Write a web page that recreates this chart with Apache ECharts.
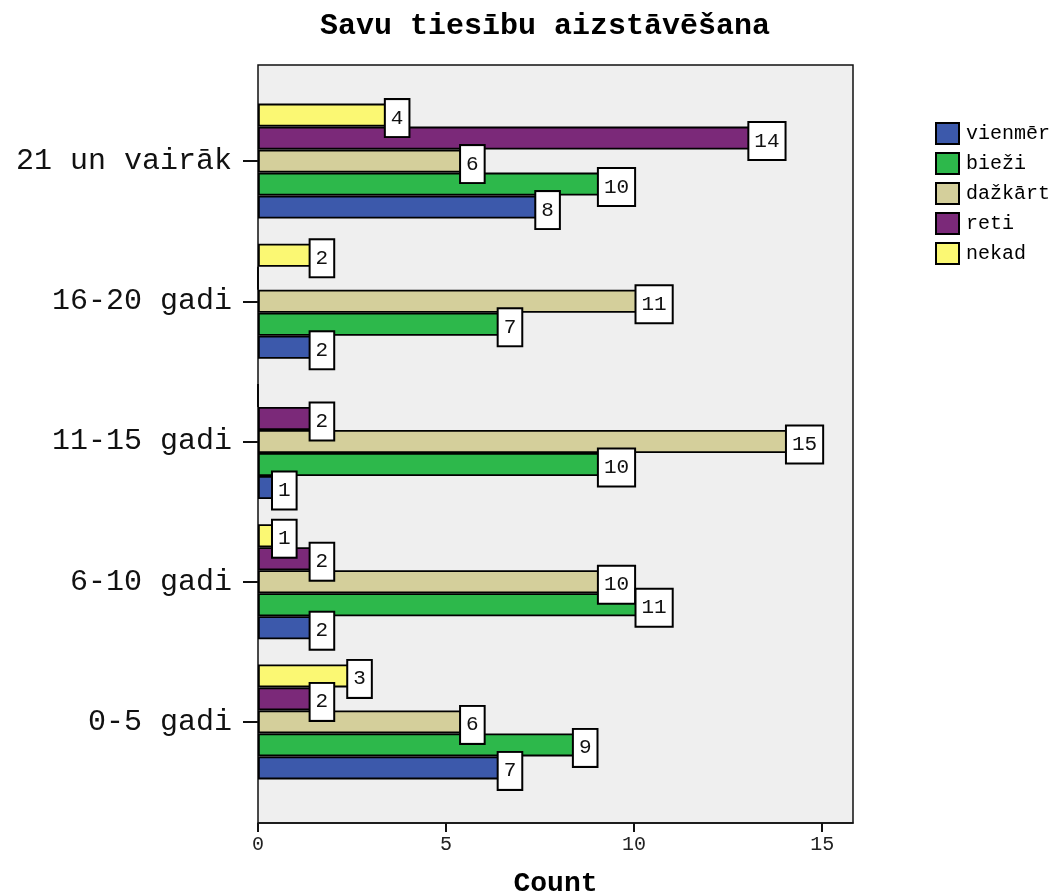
<!DOCTYPE html>
<html>
<head>
<meta charset="utf-8">
<script src="https://cdn.jsdelivr.net/npm/echarts@6/dist/echarts.min.js"></script>
<style>
  html, body { margin: 0; padding: 0; background: #ffffff; }
  #chart { width: 1051px; height: 893px; }
</style>
</head>
<body>
<div id="chart"></div>
<script>
// Years of experience groups (bottom to top)
const categories = ['0-5 gadi', '6-10 gadi', '11-15 gadi', '16-20 gadi', '21 un vairāk'];

// Answer counts per group
const seriesNames = ['vienmēr', 'bieži', 'dažkārt', 'reti', 'nekad'];
const vienmer = [7, 2, 1, 2, 8];
const biezi = [9, 11, 10, 7, 10];
const dazkart = [6, 10, 15, 11, 6];
const reti = [2, 2, 2, 0, 14];
const nekad = [3, 1, 0, 2, 4];

const xTicks = [0, 5, 10, 15];

const colors = ['#3c59ab', '#2db84b', '#d4cf9b', '#7b2979', '#fbf873'];
const mono = '"Liberation Mono", "DejaVu Sans Mono", monospace';

const valueSets = [vienmer, biezi, dazkart, reti, nekad];
const xMax = 15.82;

const chart = echarts.init(document.getElementById('chart'), null, { renderer: 'canvas' });

// first answer drawn at the bottom of each group, so series go in reverse
const series = seriesNames.map((name, i) => ({
  name: name,
  type: 'bar',
  xAxisIndex: 1,
  yAxisIndex: 1,
  data: valueSets[i].map(v => (v === 0 ? { value: v, label: { show: false } } : v)),
  barWidth: 23,
  barGap: '0%',
  itemStyle: { color: colors[i], borderColor: '#000', borderWidth: 1.8 },
  label: {
    show: true,
    position: 'insideRight',
    distance: 0,
    offset: [0, 3],
    fontFamily: mono,
    fontSize: 21,
    color: '#111',
    backgroundColor: '#fff',
    borderColor: '#000',
    borderWidth: 2,
    padding: [8, 5, 7, 5],
    lineHeight: 21
  },
  emphasis: { disabled: true }
})).reverse();

chart.setOption({
  animation: false,
  backgroundColor: '#ffffff',
  title: {
    text: 'Savu tiesību aizstāvēšana',
    left: 540,
    textAlign: 'center',
    top: 6,
    textStyle: { fontFamily: mono, fontSize: 30, fontWeight: 'bold', color: '#000' }
  },
  legend: {
    orient: 'vertical',
    left: 930,
    top: 117,
    itemWidth: 23,
    itemHeight: 21,
    itemGap: 7,
    icon: 'rect',
    data: seriesNames,
    textStyle: { fontFamily: mono, fontSize: 20, color: '#000', padding: [0, 0, 0, 2] }
  },
  grid: [
    // frame and count axis
    { left: 258, right: 198, top: 65, bottom: 70, outerBoundsMode: 'none', containLabel: false,
      show: true, backgroundColor: '#efefef', borderColor: '#111', borderWidth: 1.5 },
    // bar area
    { left: 258, right: 198, top: 91, bottom: 101, outerBoundsMode: 'none', containLabel: false }
  ],
  xAxis: [
    {
      gridIndex: 0,
      type: 'value',
      min: 0,
      max: xMax,
      interval: 5,
      name: 'Count',
      nameLocation: 'middle',
      nameGap: 47,
      nameTextStyle: { fontFamily: mono, fontSize: 28, fontWeight: 'bold', color: '#000' },
      axisLine: { show: true, lineStyle: { color: '#111', width: 1.5 } },
      axisTick: { show: true, length: 9, customValues: xTicks, lineStyle: { color: '#111', width: 2 } },
      axisLabel: {
        fontFamily: mono,
        fontSize: 20,
        color: '#222',
        margin: 12,
        customValues: xTicks
      },
      splitLine: { show: false }
    },
    {
      gridIndex: 1,
      type: 'value',
      min: 0,
      max: xMax,
      show: false
    }
  ],
  yAxis: [
    { gridIndex: 0, type: 'value', show: false },
    {
      gridIndex: 1,
      type: 'category',
      data: categories,
      axisLine: { show: false },
      axisTick: { show: true, alignWithLabel: true, length: 15, lineStyle: { color: '#111', width: 2 } },
      axisLabel: { fontFamily: mono, fontSize: 30, color: '#111', margin: 26 },
      splitLine: { show: false }
    }
  ],
  series: series
});
</script>
</body>
</html>
